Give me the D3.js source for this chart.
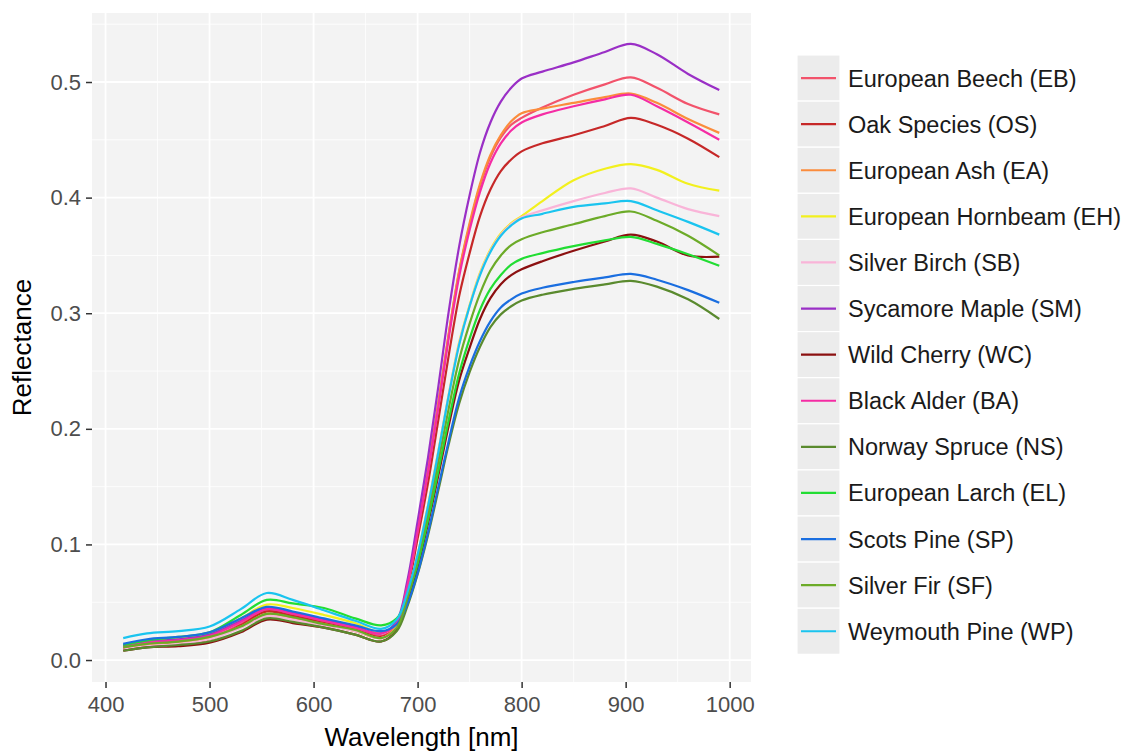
<!DOCTYPE html>
<html>
<head>
<meta charset="utf-8">
<script src="https://cdn.jsdelivr.net/npm/d3@7"></script>
<style>
  body { margin: 0; background: #fff; }
  svg { font-family: "Liberation Sans", Arial, sans-serif; }
</style>
</head>
<body>
<svg id="chart" width="1131" height="752"></svg>
<script>
/* spectra of 13 tree species */
const wavelengths = [417, 440, 470, 500, 530, 555, 580, 610, 640, 665, 680, 690, 700, 710, 720, 730, 740, 750, 760, 770, 780, 790, 800, 820, 850, 880, 905, 930, 960, 990];

const species = ["European Beech (EB)", "Oak Species (OS)", "European Ash (EA)", "European Hornbeam (EH)",
  "Silver Birch (SB)", "Sycamore Maple (SM)", "Wild Cherry (WC)", "Black Alder (BA)", "Norway Spruce (NS)",
  "European Larch (EL)", "Scots Pine (SP)", "Silver Fir (SF)", "Weymouth Pine (WP)"];

const colors = ["#f2536b", "#c62828", "#fb8c3c", "#f2f01e", "#f9b4d8", "#9a2fc6", "#8b1010",
  "#f52ca4", "#5a8a2e", "#22dd33", "#1a6ee0", "#6cab28", "#1ac4ef"];

const EB = [.010, .013, .015, .019, .031, .043, .039, .033, .027, .021, .030, .063, .112, .164, .222, .282, .336, .376, .410, .435, .452, .463, .469, .478, .489, .498, .504, .495, .481, .472];
const OS = [.009, .012, .014, .018, .030, .042, .038, .032, .026, .020, .029, .059, .105, .153, .208, .264, .315, .352, .384, .407, .423, .433, .440, .447, .454, .462, .469, .463, .451, .435];
const EA = [.010, .013, .015, .019, .029, .040, .036, .031, .025, .019, .030, .063, .112, .164, .223, .283, .337, .378, .412, .437, .454, .466, .473, .477, .482, .487, .490, .482, .468, .456];
const EH = [.012, .016, .019, .023, .036, .048, .045, .039, .032, .024, .031, .056, .091, .134, .181, .230, .275, .307, .335, .355, .369, .378, .384, .397, .415, .425, .429, .424, .412, .406];
const SB = [.009, .012, .014, .018, .028, .038, .035, .030, .025, .019, .028, .055, .091, .133, .181, .230, .274, .306, .334, .354, .368, .377, .383, .389, .397, .404, .408, .400, .390, .384];
const SM = [.012, .016, .018, .022, .034, .045, .041, .035, .029, .023, .034, .068, .120, .175, .237, .302, .358, .402, .439, .465, .483, .495, .503, .509, .517, .526, .533, .524, .507, .493];
const WC = [.008, .011, .012, .015, .024, .035, .032, .028, .022, .016, .026, .050, .080, .118, .160, .203, .242, .270, .295, .313, .325, .333, .338, .345, .354, .362, .368, .362, .350, .349];
const BA = [.011, .015, .017, .021, .033, .044, .040, .034, .028, .023, .032, .064, .111, .162, .219, .279, .332, .372, .405, .430, .447, .458, .465, .472, .479, .485, .489, .479, .465, .450];
const NS = [.008, .011, .013, .016, .025, .036, .033, .028, .022, .016, .025, .046, .074, .108, .147, .187, .222, .249, .271, .288, .299, .306, .311, .316, .321, .325, .328, .323, .312, .295];
const EL = [.013, .017, .020, .024, .039, .052, .049, .045, .036, .030, .036, .054, .083, .121, .164, .208, .248, .278, .303, .321, .333, .342, .347, .352, .358, .363, .366, .360, .351, .341];
const SP = [.014, .018, .020, .024, .036, .046, .042, .036, .030, .025, .031, .048, .075, .110, .150, .190, .227, .254, .276, .293, .305, .312, .317, .322, .327, .331, .334, .329, .320, .309];
const SF = [.011, .014, .016, .020, .029, .040, .037, .031, .026, .019, .028, .053, .087, .127, .172, .218, .260, .291, .317, .337, .350, .359, .364, .370, .377, .384, .388, .380, .367, .350];
const WP = [.019, .023, .025, .029, .044, .058, .052, .043, .034, .027, .035, .058, .091, .133, .180, .229, .273, .306, .333, .353, .367, .376, .382, .386, .392, .395, .397, .389, .379, .368];

const seriesValues = [EB, OS, EA, EH, SB, SM, WC, BA, NS, EL, SP, SF, WP];

const xTicks = [400, 500, 600, 700, 800, 900, 1000];
const yTicks = [0.0, 0.1, 0.2, 0.3, 0.4, 0.5];
const xMinor = [450, 550, 650, 750, 850, 950];
const yMinor = [0.05, 0.15, 0.25, 0.35, 0.45, 0.55];

/* layout */
const svg = d3.select("#chart");
const panel = { left: 92, top: 13, right: 751, bottom: 682 };

const x = d3.scaleLinear().domain([387, 1020.5]).range([panel.left, panel.right]);
const y = d3.scaleLinear().domain([-0.019, 0.5597]).range([panel.bottom, panel.top]);

// panel background
svg.append("rect")
  .attr("x", panel.left).attr("y", panel.top)
  .attr("width", panel.right - panel.left).attr("height", panel.bottom - panel.top)
  .attr("fill", "#f3f3f3");

// grid, minor then major
const grid = svg.append("g");
function vlines(vals, w) {
  grid.append("g").selectAll("line").data(vals).enter().append("line")
    .attr("x1", d => x(d)).attr("x2", d => x(d))
    .attr("y1", panel.top).attr("y2", panel.bottom)
    .attr("stroke", "#fff").attr("stroke-width", w);
}
function hlines(vals, w) {
  grid.append("g").selectAll("line").data(vals).enter().append("line")
    .attr("y1", d => y(d)).attr("y2", d => y(d))
    .attr("x1", panel.left).attr("x2", panel.right)
    .attr("stroke", "#fff").attr("stroke-width", w);
}
vlines(xMinor, 0.8);
hlines(yMinor, 0.8);
vlines(xTicks, 1.8);
hlines(yTicks, 1.8);

// lines
const line = d3.line()
  .x((d, i) => x(wavelengths[i]))
  .y(d => y(d))
  .curve(d3.curveCatmullRom.alpha(0.5));

svg.append("g").selectAll("path")
  .data(seriesValues).enter().append("path")
  .attr("d", line)
  .attr("fill", "none")
  .attr("stroke", (d, i) => colors[i])
  .attr("stroke-width", 2.2);

// axes
const xAxis = d3.axisBottom(x).tickValues(xTicks).tickSize(6).tickPadding(8).tickFormat(d3.format("d"));
const yAxis = d3.axisLeft(y).tickValues(yTicks).tickSize(6).tickPadding(5).tickFormat(d3.format(".1f"));

const gx = svg.append("g").attr("transform", `translate(0,${panel.bottom})`).call(xAxis);
const gy = svg.append("g").attr("transform", `translate(${panel.left},0)`).call(yAxis);
[gx, gy].forEach(g => {
  g.select(".domain").remove();
  g.selectAll(".tick line").attr("stroke", "#333").attr("stroke-width", 1.5);
  g.selectAll(".tick text").attr("fill", "#4d4d4d").style("font-size", "22px");
});

svg.append("text")
  .attr("x", (panel.left + panel.right) / 2).attr("y", 746)
  .attr("text-anchor", "middle").style("font-size", "26px").attr("fill", "#000")
  .text("Wavelength [nm]");

svg.append("text")
  .attr("transform", `translate(31,${(panel.top + panel.bottom) / 2}) rotate(-90)`)
  .attr("text-anchor", "middle").style("font-size", "26px").attr("fill", "#000")
  .text("Reflectance");

// legend
const legend = svg.append("g").attr("transform", "translate(797,55)");
const keyH = 46.1, keyW = 43;
const item = legend.selectAll("g").data(species).enter().append("g")
  .attr("transform", (d, i) => `translate(0,${i * keyH})`);
item.append("rect")
  .attr("width", keyW).attr("height", keyH)
  .attr("fill", "#ececec").attr("stroke", "#fff").attr("stroke-width", 1.2);
item.append("line")
  .attr("x1", 4).attr("x2", keyW - 4)
  .attr("y1", keyH / 2).attr("y2", keyH / 2)
  .attr("stroke", (d, i) => colors[i]).attr("stroke-width", 2.2);
item.append("text")
  .attr("x", 51).attr("y", keyH / 2).attr("dy", "0.36em")
  .style("font-size", "23.5px").attr("fill", "#1a1a1a")
  .text(d => d);
</script>
</body>
</html>
